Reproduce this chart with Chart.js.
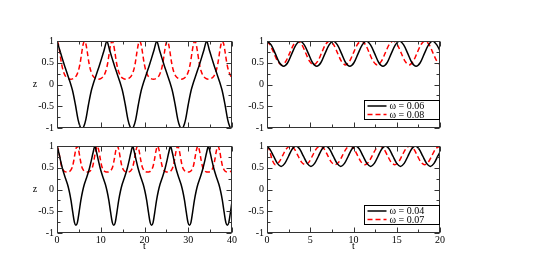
<!DOCTYPE html>
<html>
<head>
<meta charset="utf-8">
<script src="https://cdn.jsdelivr.net/npm/chart.js@4/dist/chart.umd.min.js"></script>
<style>
html, body { margin: 0; padding: 0; background: #fff; }
#wrap { position: relative; width: 545px; height: 273px; }
#wrap canvas { position: absolute; left: 0; top: 0; }
</style>
</head>
<body>
<div id="wrap">
  <canvas id="tl" width="545" height="273"></canvas>
  <canvas id="tr" width="545" height="273"></canvas>
  <canvas id="bl" width="545" height="273"></canvas>
  <canvas id="br" width="545" height="273"></canvas>
</div>
<script>
// Curves, as [t, z] pairs
const blackTopLeft = [
  [0,1],[0.6,0.8],[1.2,0.6],[1.8,0.41],[2.4,0.23],[3.0,0.05],[3.6,-0.16],[4.2,-0.46],[4.8,-0.8],[5.3,-0.97],[5.7,-1],
  [6.1,-0.97],[6.6,-0.8],[7.2,-0.46],[7.8,-0.16],[8.4,0.05],[9.0,0.23],[9.6,0.41],[10.2,0.6],[10.8,0.8],[11.4,1],
  [12.0,0.8],[12.6,0.6],[13.2,0.41],[13.8,0.23],[14.4,0.05],[15.0,-0.16],[15.6,-0.46],[16.2,-0.8],[16.7,-0.97],[17.1,-1],
  [17.5,-0.97],[18.0,-0.8],[18.6,-0.46],[19.2,-0.16],[19.8,0.05],[20.4,0.23],[21.0,0.41],[21.6,0.6],[22.2,0.8],[22.8,1],
  [23.4,0.8],[24.0,0.6],[24.6,0.41],[25.2,0.23],[25.8,0.05],[26.4,-0.16],[27.0,-0.46],[27.6,-0.8],[28.1,-0.97],[28.5,-1],
  [28.9,-0.97],[29.4,-0.8],[30.0,-0.46],[30.6,-0.16],[31.2,0.05],[31.8,0.23],[32.4,0.41],[33.0,0.6],[33.6,0.8],[34.2,1],
  [34.8,0.8],[35.4,0.6],[36.0,0.41],[36.6,0.23],[37.2,0.05],[37.8,-0.16],[38.4,-0.46],[39.0,-0.8],[39.5,-0.97],[39.9,-1],[40,-1]
];
const redTopLeft = [
  [0,1],[0.3,0.93],[0.65,0.73],[1.0,0.5],[1.4,0.32],[1.9,0.2],[2.5,0.14],[3.15,0.12],[3.8,0.14],[4.4,0.2],[4.9,0.32],[5.3,0.5],[5.65,0.73],[6.0,0.93],[6.3,1],
  [6.6,0.93],[6.95,0.73],[7.3,0.5],[7.7,0.32],[8.2,0.2],[8.8,0.14],[9.45,0.12],[10.1,0.14],[10.7,0.2],[11.2,0.32],[11.6,0.5],[11.95,0.73],[12.3,0.93],[12.6,1],
  [12.9,0.93],[13.25,0.73],[13.6,0.5],[14.0,0.32],[14.5,0.2],[15.1,0.14],[15.75,0.12],[16.4,0.14],[17.0,0.2],[17.5,0.32],[17.9,0.5],[18.25,0.73],[18.6,0.93],[18.9,1],
  [19.2,0.93],[19.55,0.73],[19.9,0.5],[20.3,0.32],[20.8,0.2],[21.4,0.14],[22.05,0.12],[22.7,0.14],[23.3,0.2],[23.8,0.32],[24.2,0.5],[24.55,0.73],[24.9,0.93],[25.2,1],
  [25.5,0.93],[25.85,0.73],[26.2,0.5],[26.6,0.32],[27.1,0.2],[27.7,0.14],[28.35,0.12],[29.0,0.14],[29.6,0.2],[30.1,0.32],[30.5,0.5],[30.85,0.73],[31.2,0.93],[31.5,1],
  [31.8,0.93],[32.15,0.73],[32.5,0.5],[32.9,0.32],[33.4,0.2],[34.0,0.14],[34.65,0.12],[35.3,0.14],[35.9,0.2],[36.4,0.32],[36.8,0.5],[37.15,0.73],[37.5,0.93],[37.8,1],
  [38.1,0.93],[38.45,0.73],[38.8,0.5],[39.2,0.32],[39.7,0.2],[40,0.17]
];
const blackTopRight = [
  [0,1],[0.48,0.91],[0.96,0.71],[1.44,0.5],[1.92,0.42],[2.39,0.5],[2.87,0.71],[3.35,0.91],[3.83,1],
  [4.31,0.91],[4.79,0.71],[5.27,0.5],[5.75,0.42],[6.22,0.5],[6.70,0.71],[7.18,0.91],[7.66,1],
  [8.14,0.91],[8.62,0.71],[9.10,0.5],[9.58,0.42],[10.05,0.5],[10.53,0.71],[11.01,0.91],[11.49,1],
  [11.97,0.91],[12.45,0.71],[12.93,0.5],[13.41,0.42],[13.88,0.5],[14.36,0.71],[14.84,0.91],[15.32,1],
  [15.80,0.91],[16.28,0.71],[16.76,0.5],[17.24,0.42],[17.71,0.5],[18.19,0.71],[18.67,0.91],[19.15,1],
  [19.63,0.91],[20,0.77]
];
const redTopRight = [
  [0,0.99],[0.33,0.92],[0.79,0.725],[1.25,0.53],[1.71,0.45],[2.17,0.53],[2.63,0.725],[3.09,0.92],[3.55,1],
  [4.01,0.92],[4.47,0.725],[4.93,0.53],[5.39,0.45],[5.85,0.53],[6.31,0.725],[6.77,0.92],[7.23,1],
  [7.69,0.92],[8.15,0.725],[8.61,0.53],[9.07,0.45],[9.53,0.53],[9.99,0.725],[10.45,0.92],[10.91,1],
  [11.37,0.92],[11.83,0.725],[12.29,0.53],[12.75,0.45],[13.21,0.53],[13.67,0.725],[14.13,0.92],[14.59,1],
  [15.05,0.92],[15.51,0.725],[15.97,0.53],[16.43,0.45],[16.89,0.53],[17.35,0.725],[17.81,0.92],[18.27,1],
  [18.73,0.92],[19.19,0.725],[19.65,0.53],[20,0.46]
];
const blackBottomLeft = [
  [0,1],[0.4,0.85],[0.8,0.67],[1.2,0.5],[1.6,0.36],[2.0,0.24],[2.4,0.12],[2.8,-0.04],[3.2,-0.25],[3.6,-0.52],[4.0,-0.76],[4.33,-0.82],
  [4.66,-0.76],[5.05,-0.52],[5.45,-0.25],[5.85,-0.04],[6.25,0.12],[6.65,0.24],[7.05,0.36],[7.45,0.5],[7.85,0.67],[8.25,0.85],[8.65,1],
  [9.05,0.85],[9.45,0.67],[9.85,0.5],[10.25,0.36],[10.65,0.24],[11.05,0.12],[11.45,-0.04],[11.85,-0.25],[12.25,-0.52],[12.65,-0.76],[12.98,-0.82],
  [13.31,-0.76],[13.7,-0.52],[14.1,-0.25],[14.5,-0.04],[14.9,0.12],[15.3,0.24],[15.7,0.36],[16.1,0.5],[16.5,0.67],[16.9,0.85],[17.3,1],
  [17.7,0.85],[18.1,0.67],[18.5,0.5],[18.9,0.36],[19.3,0.24],[19.7,0.12],[20.1,-0.04],[20.5,-0.25],[20.9,-0.52],[21.3,-0.76],[21.63,-0.82],
  [21.96,-0.76],[22.35,-0.52],[22.75,-0.25],[23.15,-0.04],[23.55,0.12],[23.95,0.24],[24.35,0.36],[24.75,0.5],[25.15,0.67],[25.55,0.85],[25.95,1],
  [26.35,0.85],[26.75,0.67],[27.15,0.5],[27.55,0.36],[27.95,0.24],[28.35,0.12],[28.75,-0.04],[29.15,-0.25],[29.55,-0.52],[29.95,-0.76],[30.28,-0.82],
  [30.61,-0.76],[31.0,-0.52],[31.4,-0.25],[31.8,-0.04],[32.2,0.12],[32.6,0.24],[33.0,0.36],[33.4,0.5],[33.8,0.67],[34.2,0.85],[34.6,1],
  [35.0,0.85],[35.4,0.67],[35.8,0.5],[36.2,0.36],[36.6,0.24],[37.0,0.12],[37.4,-0.04],[37.8,-0.25],[38.2,-0.52],[38.6,-0.76],[38.93,-0.82],
  [39.26,-0.76],[39.65,-0.52],[40,-0.28]
];
const redBottomLeft = [
  [0,1],[0.35,0.9],[0.7,0.7],[1.05,0.53],[1.4,0.45],[1.8,0.41],[2.3,0.4],[2.8,0.41],[3.2,0.45],[3.55,0.53],[3.9,0.7],[4.25,0.9],[4.6,1],
  [4.95,0.9],[5.3,0.7],[5.65,0.53],[6.0,0.45],[6.4,0.41],[6.9,0.4],[7.4,0.41],[7.8,0.45],[8.15,0.53],[8.5,0.7],[8.85,0.9],[9.2,1],
  [9.55,0.9],[9.9,0.7],[10.25,0.53],[10.6,0.45],[11.0,0.41],[11.5,0.4],[12.0,0.41],[12.4,0.45],[12.75,0.53],[13.1,0.7],[13.45,0.9],[13.8,1],
  [14.15,0.9],[14.5,0.7],[14.85,0.53],[15.2,0.45],[15.6,0.41],[16.1,0.4],[16.6,0.41],[17.0,0.45],[17.35,0.53],[17.7,0.7],[18.05,0.9],[18.4,1],
  [18.75,0.9],[19.1,0.7],[19.45,0.53],[19.8,0.45],[20.2,0.41],[20.7,0.4],[21.2,0.41],[21.6,0.45],[21.95,0.53],[22.3,0.7],[22.65,0.9],[23.0,1],
  [23.35,0.9],[23.7,0.7],[24.05,0.53],[24.4,0.45],[24.8,0.41],[25.3,0.4],[25.8,0.41],[26.2,0.45],[26.55,0.53],[26.9,0.7],[27.25,0.9],[27.6,1],
  [27.95,0.9],[28.3,0.7],[28.65,0.53],[29.0,0.45],[29.4,0.41],[29.9,0.4],[30.4,0.41],[30.8,0.45],[31.15,0.53],[31.5,0.7],[31.85,0.9],[32.2,1],
  [32.55,0.9],[32.9,0.7],[33.25,0.53],[33.6,0.45],[34.0,0.41],[34.5,0.4],[35.0,0.41],[35.4,0.45],[35.75,0.53],[36.1,0.7],[36.45,0.9],[36.8,1],
  [37.15,0.9],[37.5,0.7],[37.85,0.53],[38.2,0.45],[38.6,0.41],[39.1,0.4],[39.6,0.41],[40,0.44]
];
const blackBottomRight = [
  [0,0.99],[0.33,0.93],[0.76,0.765],[1.2,0.6],[1.63,0.53],[2.06,0.6],[2.49,0.765],[2.92,0.93],[3.35,1],
  [3.78,0.93],[4.21,0.765],[4.65,0.6],[5.08,0.53],[5.51,0.6],[5.94,0.765],[6.37,0.93],[6.8,1],
  [7.23,0.93],[7.66,0.765],[8.1,0.6],[8.53,0.53],[8.96,0.6],[9.39,0.765],[9.82,0.93],[10.25,1],
  [10.68,0.93],[11.11,0.765],[11.55,0.6],[11.98,0.53],[12.41,0.6],[12.84,0.765],[13.27,0.93],[13.7,1],
  [14.13,0.93],[14.56,0.765],[15.0,0.6],[15.43,0.53],[15.86,0.6],[16.29,0.765],[16.72,0.93],[17.15,1],
  [17.58,0.93],[18.01,0.765],[18.45,0.6],[18.88,0.53],[19.31,0.6],[19.74,0.765],[20,0.86]
];
const redBottomRight = [
  [0,1],[0.3,0.9],[0.6,0.68],[0.95,0.57],[1.39,0.63],[1.82,0.785],[2.26,0.94],[2.7,1],
  [3.13,0.94],[3.56,0.785],[3.99,0.63],[4.42,0.57],[4.85,0.63],[5.28,0.785],[5.72,0.94],[6.15,1],
  [6.58,0.94],[7.01,0.785],[7.44,0.63],[7.87,0.57],[8.3,0.63],[8.73,0.785],[9.17,0.94],[9.6,1],
  [10.03,0.94],[10.46,0.785],[10.89,0.63],[11.32,0.57],[11.75,0.63],[12.18,0.785],[12.62,0.94],[13.05,1],
  [13.48,0.94],[13.91,0.785],[14.34,0.63],[14.77,0.57],[15.2,0.63],[15.63,0.785],[16.07,0.94],[16.5,1],
  [16.93,0.94],[17.36,0.785],[17.79,0.63],[18.22,0.57],[18.65,0.63],[19.08,0.785],[19.52,0.94],[20,1]
];

const legendTop = ['\u03c9 = 0.06', '\u03c9 = 0.08'];
const legendBottom = ['\u03c9 = 0.04', '\u03c9 = 0.07'];
const yLabel = 'z';
const xLabel = 't';

const FONT = '"Liberation Serif", "DejaVu Serif", serif';

// frame, inward ticks, axis letters and legend box
const framePlugin = {
  id: 'frame',
  afterDraw(chart, args, opts) {
    const { ctx, chartArea: a, scales } = chart;
    const x = scales.x, y = scales.y;
    ctx.save();
    ctx.strokeStyle = '#333';
    ctx.lineWidth = 1;
    const L = Math.round(a.left) + 0.5, R = Math.round(a.right) - 0.5;
    const T = Math.round(a.top) + 0.5, B = Math.round(a.bottom) - 0.5;
    ctx.strokeRect(L, T, R - L, B - T);

    ctx.beginPath();
    for (let v = -1; v <= 1.001; v += 0.25) {
      const py = Math.round(y.getPixelForValue(v)) + 0.5;
      const len = Math.abs(v * 2 - Math.round(v * 2)) < 0.01 ? 5 : 3;
      ctx.moveTo(L, py); ctx.lineTo(L + len, py);
      ctx.moveTo(R, py); ctx.lineTo(R - len, py);
    }
    for (let v = 0; v <= x.max + 0.001; v += opts.minor) {
      const px = Math.round(x.getPixelForValue(v)) + 0.5;
      const major = Math.abs(v / opts.major - Math.round(v / opts.major)) < 0.01;
      const len = major ? 5 : 3;
      ctx.moveTo(px, B); ctx.lineTo(px, B - len);
      ctx.moveTo(px, T); ctx.lineTo(px, T + len);
    }
    ctx.stroke();

    ctx.fillStyle = '#000';
    ctx.font = '10px ' + FONT;
    ctx.textBaseline = 'middle';
    if (opts.yTitle) {
      ctx.textAlign = 'center';
      ctx.fillText(yLabel, a.left - 22, (a.top + a.bottom) / 2);
    }
    if (opts.xTitle) {
      ctx.textAlign = 'center';
      ctx.fillText(xLabel, (a.left + a.right) / 2, a.bottom + 13);
    }
    if (opts.legend) {
      const w = 75, h = 19;
      const bx = Math.round(a.right) - 1 - w + 0.5, by = Math.round(a.bottom) - 9 - h + 0.5;
      ctx.fillStyle = '#fff';
      ctx.fillRect(bx, by, w, h);
      ctx.strokeStyle = '#000';
      ctx.strokeRect(bx, by, w, h);
      const rows = [by + 5.5, by + 14];
      const styles = [{ c: '#000', d: [] }, { c: '#ff0000', d: [5, 3] }];
      rows.forEach((ry, i) => {
        ctx.strokeStyle = styles[i].c;
        ctx.lineWidth = 1.5;
        ctx.setLineDash(styles[i].d);
        ctx.beginPath();
        ctx.moveTo(bx + 3, ry); ctx.lineTo(bx + 22, ry);
        ctx.stroke();
        ctx.setLineDash([]);
        ctx.fillStyle = '#000';
        ctx.textAlign = 'left';
        ctx.fillText(opts.legend[i], bx + 25, ry + 0.5);
      });
    }
    ctx.restore();
  }
};

function makePanel(id, area, black, red, xMax, major, minor, showXTicks, legend, yTitle) {
  const yW = 30, xH = 20;
  new Chart(document.getElementById(id), {
    type: 'line',
    data: {
      datasets: [
        {
          data: black.map(p => ({ x: p[0], y: p[1] })),
          borderColor: '#000', borderWidth: 1.5, pointRadius: 0, tension: 0.3
        },
        {
          data: red.map(p => ({ x: p[0], y: p[1] })),
          borderColor: '#ff0000', borderWidth: 1.5, borderDash: [5, 3], pointRadius: 0, tension: 0.3
        }
      ]
    },
    options: {
      responsive: false,
      animation: false,
      events: [],
      layout: {
        padding: { left: area.left - yW, top: area.top, right: 545 - area.right, bottom: 273 - area.bottom - xH }
      },
      plugins: {
        legend: { display: false },
        tooltip: { enabled: false },
        frame: { major: major, minor: minor, legend: legend, yTitle: yTitle, xTitle: showXTicks }
      },
      scales: {
        x: {
          type: 'linear', min: 0, max: xMax,
          grid: { display: false, drawTicks: false },
          border: { display: false },
          ticks: { display: showXTicks, stepSize: major, padding: 1, color: '#000', font: { family: FONT, size: 10 } },
          afterFit(s) { s.height = xH; }
        },
        y: {
          min: -1, max: 1,
          grid: { display: false, drawTicks: false },
          border: { display: false },
          ticks: {
            stepSize: 0.5, padding: 3, color: '#000', font: { family: FONT, size: 10 },
            callback: v => String(Math.round(v * 10) / 10)
          },
          afterFit(s) { s.width = yW; }
        }
      }
    },
    plugins: [framePlugin]
  });
}

makePanel('tl', { left: 57, right: 232, top: 41, bottom: 128 }, blackTopLeft, redTopLeft, 40, 10, 5, false, null, true);
makePanel('tr', { left: 267, right: 440, top: 41, bottom: 128 }, blackTopRight, redTopRight, 20, 5, 2.5, false, legendTop, false);
makePanel('bl', { left: 57, right: 232, top: 146, bottom: 233 }, blackBottomLeft, redBottomLeft, 40, 10, 5, true, null, true);
makePanel('br', { left: 267, right: 440, top: 146, bottom: 233 }, blackBottomRight, redBottomRight, 20, 5, 2.5, true, legendBottom, false);
</script>
</body>
</html>
